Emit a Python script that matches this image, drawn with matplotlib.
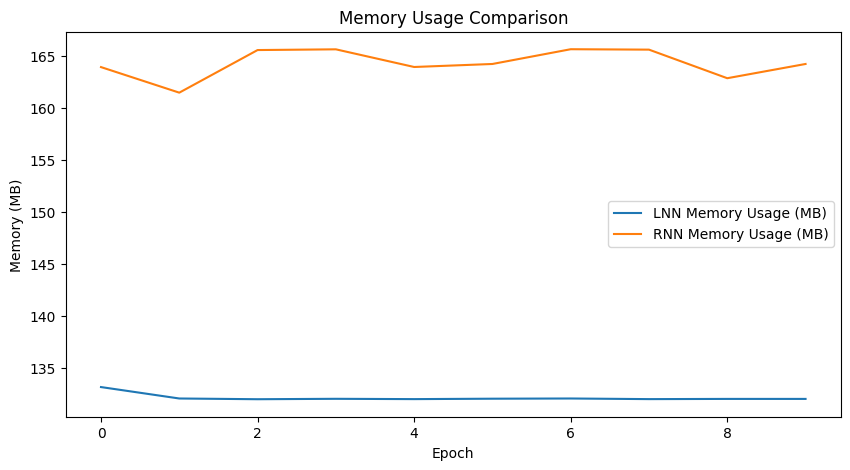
# Memory usage per epoch, LNN vs RNN

import matplotlib.pyplot as plt

epochs = list(range(10))
lnn_memory = [133.15, 132.05, 131.98, 132.02, 131.99, 132.03, 132.05, 131.99, 132.01, 132.01]
rnn_memory = [163.94, 161.48, 165.58, 165.65, 163.95, 164.24, 165.66, 165.62, 162.87, 164.24]

plt.figure(figsize=(10, 5))
plt.plot(epochs, lnn_memory, label="LNN Memory Usage (MB)")
plt.plot(epochs, rnn_memory, label="RNN Memory Usage (MB)")

plt.title("Memory Usage Comparison")
plt.xlabel("Epoch")
plt.ylabel("Memory (MB)")
plt.legend()

plt.savefig("out.png", dpi=100, bbox_inches="tight")
